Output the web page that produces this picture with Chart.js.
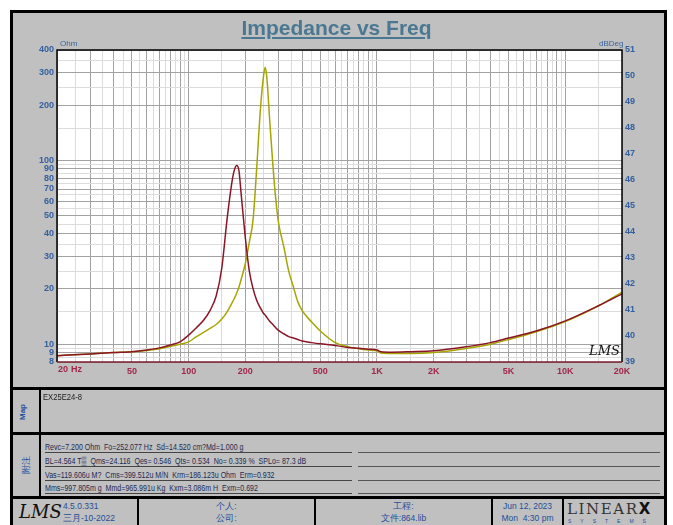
<!DOCTYPE html>
<html>
<head>
<meta charset="utf-8">
<script src="https://cdn.jsdelivr.net/npm/chart.js@4.4.0/dist/chart.umd.min.js"></script>
<style>
  body { margin: 0; width: 673px; height: 525px; overflow: hidden; position: relative; background: #fff;
         font-family: "Liberation Sans", Arial, sans-serif; }
  .frame { position: absolute; left: 10px; top: 10px; width: 651px; height: 520px; border: 3px solid #000; background: #c0c0c0; }
  .abs { position: absolute; }
  .bar { position: absolute; background: #000; }
  #chart { position: absolute; left: 13px; top: 13px; }
  .title { left: 0; width: 673px; top: 16px; text-align: center; font-weight: bold; font-size: 21px; color: #4a7892; text-decoration: underline; }
  .unit { font-size: 8px; color: #3a64a0; }
  .lms { font-family: "DejaVu Serif", serif; font-style: italic; color: #111; }
  .note { font-size: 8.5px; color: #1c2a50; border-bottom: 1px solid #444; width: 307px; left: 45px;
          height: 11px; line-height: 12px; white-space: nowrap; }
  .note span { display: inline-block; transform: scaleX(0.83); transform-origin: left center; }
  .note2 { border-bottom: 1px solid #555; width: 302px; left: 358px; height: 11px; }
  .foot { font-size: 8.5px; color: #1f4e9a; text-align: center; line-height: 12px; }
</style>
</head>
<body>
<div class="frame"></div>
<canvas id="chart" width="652" height="375"></canvas>
<div class="abs title">Impedance vs Freq</div>
<div class="abs unit" style="left:60px;top:39px;">Ohm</div>
<div class="abs unit" style="left:599px;top:39px;">dBDeg</div>
<div class="abs lms" style="left:589px;top:343px;font-size:13px;">LMS</div>

<!-- panel separators -->
<div class="bar" style="left:13px;top:387px;width:651px;height:3px;"></div>
<div class="bar" style="left:13px;top:432px;width:651px;height:3px;"></div>
<div class="bar" style="left:13px;top:496px;width:651px;height:3px;"></div>
<div class="bar" style="left:39px;top:390px;width:2px;height:106px;"></div>

<div class="abs" style="left:16px;top:404px;width:20px;height:16px;font-size:8px;font-weight:bold;color:#2050a0;transform:rotate(-90deg);text-align:center;">Map</div>
<div class="abs" style="left:43px;top:392px;font-size:9px;color:#222;"><span style="display:inline-block;transform:scaleX(0.85);transform-origin:left;">EX25E24-8</span></div>

<div class="abs" style="left:15px;top:459px;width:22px;height:12px;font-size:9px;color:#2050a0;transform:rotate(-90deg);text-align:center;">附注</div>
<div class="abs note" style="top:441px;"><span>Revc=7.200 Ohm&nbsp; Fo=252.077 Hz&nbsp; Sd=14.520 cm?Md=1.000 g</span></div>
<div class="abs note" style="top:455px;"><span>BL=4.564 T&#9618;&nbsp; Qms=24.116&nbsp; Qes= 0.546&nbsp; Qts= 0.534&nbsp; No= 0.339 %&nbsp; SPLo= 87.3 dB</span></div>
<div class="abs note" style="top:469px;"><span>Vas=119.606u M?&nbsp; Cms=399.512u M/N&nbsp; Krm=186.123u Ohm&nbsp; Erm=0.932</span></div>
<div class="abs note" style="top:482px;"><span>Mms=997.805m g&nbsp; Mmd=965.991u Kg&nbsp; Kxm=3.086m H&nbsp; Exm=0.692</span></div>
<div class="abs note2" style="top:441px;"></div>
<div class="abs note2" style="top:455px;"></div>
<div class="abs note2" style="top:469px;"></div>
<div class="abs note2" style="top:482px;"></div>

<!-- footer -->
<div class="bar" style="left:137px;top:499px;width:2px;height:26px;"></div>
<div class="bar" style="left:314px;top:499px;width:2px;height:26px;"></div>
<div class="bar" style="left:491px;top:499px;width:2px;height:26px;"></div>
<div class="bar" style="left:562px;top:499px;width:2px;height:26px;"></div>
<div class="abs lms" style="left:19px;top:501px;font-size:18px;">LMS</div>
<div class="abs foot" style="left:63px;top:500px;text-align:left;">4.5.0.331<br>三月-10-2022</div>
<div class="abs foot" style="left:139px;top:500px;width:175px;">个人:<br>公司:</div>
<div class="abs foot" style="left:316px;top:500px;width:175px;">工程:<br>文件:864.lib</div>
<div class="abs foot" style="left:493px;top:500px;width:69px;">Jun 12, 2023<br>Mon&nbsp; 4:30 pm</div>
<div class="abs" style="left:567px;top:500px;font-family:'DejaVu Serif',serif;font-size:15px;letter-spacing:1.6px;color:#333;">LINEAR<b style="font-family:'DejaVu Sans',sans-serif;color:#111;letter-spacing:0;">X</b></div>
<div class="abs" style="left:568px;top:518px;font-size:5px;letter-spacing:9px;color:#2050a0;">SYSTEMS</div>

<script>
// frequency points (Hz) and impedance curves (Ohm)
const freq = [20, 30, 40, 50, 60, 70, 80, 90, 100, 110, 120, 130, 140, 150, 160, 170, 175, 180, 185, 190,
  200, 210, 220, 230, 240, 250, 255, 260, 270, 280, 290, 300, 320, 340, 360, 380, 400, 450, 500,
  600, 700, 800, 900, 1000, 1050, 1200, 1500, 2000, 3000, 4000, 5000, 7000, 10000, 15000, 20000];

const zRed = [8.66, 8.85, 9.0, 9.1, 9.3, 9.55, 9.9, 10.3, 11.2, 12.3, 13.5, 15.3, 18.3, 26, 48, 77, 89, 94, 88, 66,
  38, 25, 20, 17.3, 15.8, 14.7, 14.4, 14.0, 13.3, 12.8, 12.3, 11.9, 11.4, 11.0, 10.8, 10.6, 10.4, 10.2, 10.05,
  9.85, 9.6, 9.5, 9.4, 9.3, 9.1, 9.05, 9.1, 9.2, 9.7, 10.2, 10.8, 11.8, 13.4, 16.2, 18.8];

const zYellow = [8.66, 8.85, 9.0, 9.1, 9.25, 9.45, 9.75, 10.0, 10.3, 11.0, 11.6, 12.2, 12.8, 13.7, 15.0, 16.8, 17.8, 19, 20.5, 22.5,
  27.5, 36, 48, 92, 185, 290, 322, 285, 160, 95, 62, 46, 34, 25, 20.5, 17, 15.3, 13.2, 11.8,
  10.2, 9.7, 9.45, 9.3, 9.2, 8.95, 8.9, 8.9, 9.0, 9.5, 10.0, 10.6, 11.7, 13.3, 16.2, 19.2];

const xTickLabels = { 50: '50', 100: '100', 200: '200', 500: '500', 1000: '1K', 2000: '2K', 5000: '5K', 10000: '10K', 20000: '20K' };
const yTickLabels = [8, 9, 10, 20, 30, 40, 50, 60, 70, 80, 90, 100, 200, 300, 400];
const rightMin = 39, rightMax = 51;

const gridMult = [1, 1.5, 2, 2.5, 3, 3.5, 4, 4.5, 5, 5.5, 6, 6.5, 7, 7.5, 8, 8.5, 9, 9.5];
function gridValues(min, max) {
  const out = [];
  for (let e = 0; e < 6; e++) {
    for (const m of gridMult) {
      const v = m * Math.pow(10, e);
      if (v >= min - 1e-9 && v <= max + 1e-9) out.push(v);
    }
  }
  return out;
}
function isMajor(v) {
  const m = v / Math.pow(10, Math.floor(Math.log10(v) + 1e-9));
  return Math.abs(m - Math.round(m)) < 1e-6;
}
const gridColor = ctx => (ctx.tick && isMajor(ctx.tick.value)) ? '#a2a2a2' : '#dcdcdc';

const plotFrame = {
  id: 'plotFrame',
  beforeDraw(chart) {
    const { ctx, chartArea: a } = chart;
    ctx.save();
    ctx.fillStyle = '#fff';
    ctx.fillRect(a.left, a.top, a.right - a.left, a.bottom - a.top);
    ctx.restore();
  },
  afterDraw(chart) {
    const { ctx, chartArea: a } = chart;
    ctx.save();
    ctx.strokeStyle = '#000';
    ctx.lineWidth = 1.5;
    ctx.beginPath();
    ctx.moveTo(a.left, a.bottom);
    ctx.lineTo(a.left, a.top);
    ctx.lineTo(a.right, a.top);
    ctx.lineTo(a.right, a.bottom);
    ctx.stroke();
    ctx.strokeStyle = '#7a1a2a';
    ctx.beginPath();
    ctx.moveTo(a.left, a.bottom);
    ctx.lineTo(a.right, a.bottom);
    ctx.stroke();
    ctx.fillStyle = '#a0284a';
    ctx.font = 'bold 9px "Liberation Sans", Arial';
    ctx.textBaseline = 'middle';
    ctx.fillText('20', a.left + 1, a.bottom + 8);
    ctx.fillText('Hz', a.left + 14, a.bottom + 8);
    ctx.restore();
  }
};

const tickFont = { family: '"Liberation Sans", Arial', size: 9, weight: 'bold' };

new Chart(document.getElementById('chart'), {
  type: 'line',
  data: {
    datasets: [
      { data: freq.map((f, i) => ({ x: f, y: zRed[i] })), borderColor: '#8a1526', borderWidth: 1.5,
        pointRadius: 0, cubicInterpolationMode: 'monotone' },
      { data: freq.map((f, i) => ({ x: f, y: zYellow[i] })), borderColor: '#a6a600', borderWidth: 1.5,
        pointRadius: 0, cubicInterpolationMode: 'monotone' }
    ]
  },
  options: {
    responsive: false,
    animation: false,
    devicePixelRatio: 1,
    layout: { padding: { top: 37, left: 0, right: 0, bottom: 0 } },
    plugins: { legend: { display: false }, tooltip: { enabled: false } },
    scales: {
      x: {
        type: 'logarithmic', min: 20, max: 20000,
        afterBuildTicks: s => { s.ticks = gridValues(20, 20000).map(v => ({ value: v })); },
        afterFit: s => { s.height = 26; },
        ticks: { autoSkip: false, maxRotation: 0, padding: 4, color: '#a0284a', font: tickFont,
                 callback: v => xTickLabels[Math.round(v)] || '' },
        grid: { color: gridColor, drawTicks: false, lineWidth: 1 },
        border: { display: false }
      },
      y: {
        type: 'logarithmic', min: 8, max: 400, position: 'left',
        afterBuildTicks: s => { s.ticks = gridValues(8, 400).map(v => ({ value: v })); },
        afterFit: s => { s.width = 44; },
        ticks: { autoSkip: false, padding: 3, color: '#3460a0', font: tickFont,
                 callback: v => yTickLabels.includes(Math.round(v * 10) / 10) ? String(Math.round(v)) : '' },
        grid: { color: gridColor, drawTicks: false, lineWidth: 1 },
        border: { display: false }
      },
      y2: {
        type: 'linear', min: rightMin, max: rightMax, position: 'right',
        afterFit: s => { s.width = 43; },
        ticks: { stepSize: 1, padding: 3, color: '#3460a0', font: tickFont },
        grid: { display: false, drawTicks: false },
        border: { display: false }
      }
    }
  },
  plugins: [plotFrame]
});
</script>
</body>
</html>
